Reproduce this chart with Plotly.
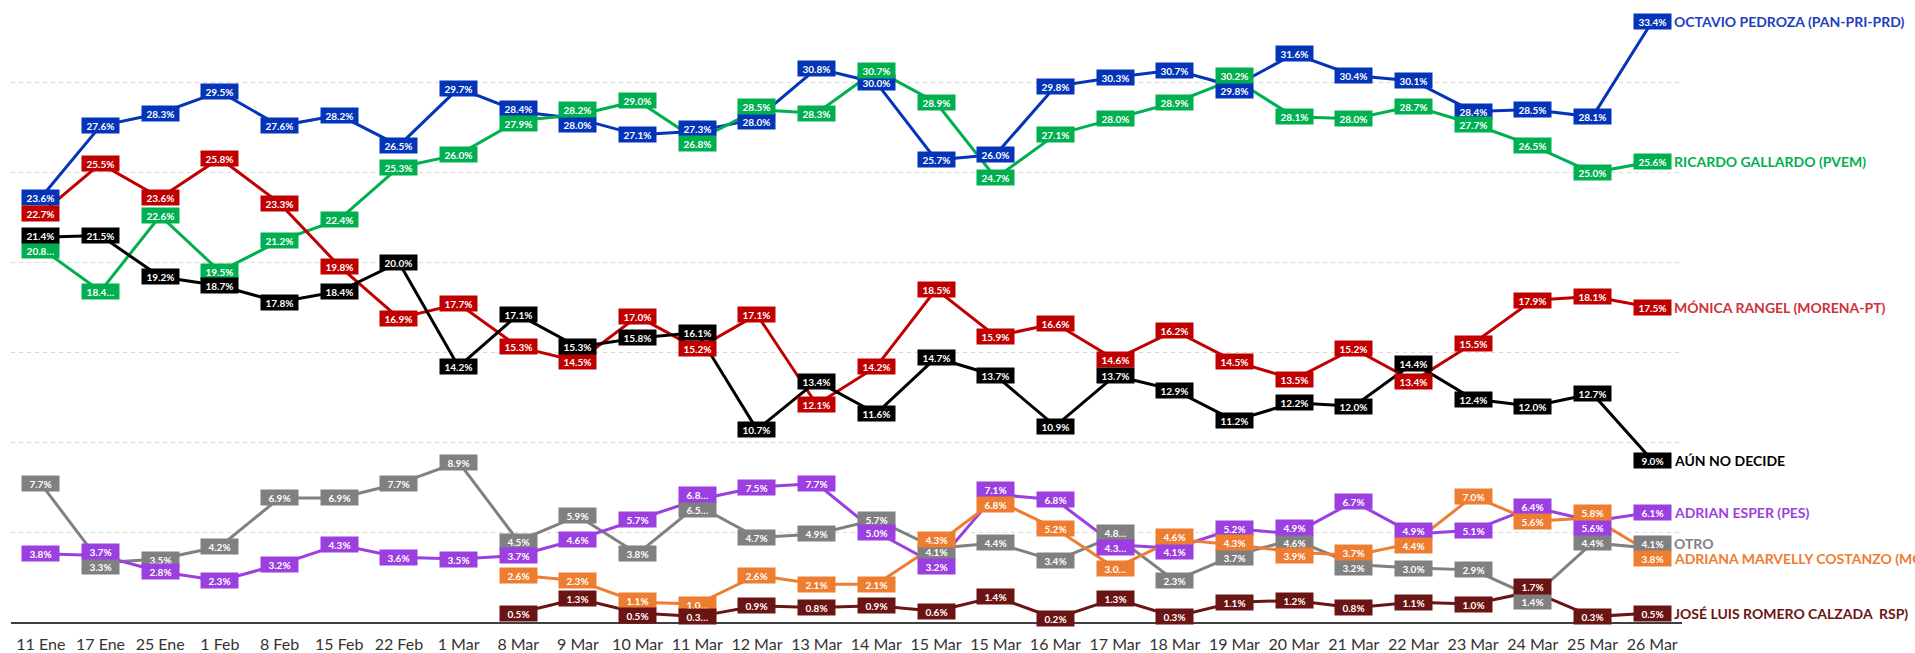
import plotly.graph_objects as go

categories = ["11 Ene", "17 Ene", "25 Ene", "1 Feb", "8 Feb", "15 Feb", "22 Feb", "1 Mar",
              "8 Mar", "9 Mar", "10 Mar", "11 Mar", "12 Mar", "13 Mar", "14 Mar", "15 Mar",
              "15 Mar", "16 Mar", "17 Mar", "18 Mar", "19 Mar", "20 Mar", "21 Mar", "22 Mar",
              "23 Mar", "24 Mar", "25 Mar", "26 Mar"]

octavio = [23.6, 27.6, 28.3, 29.5, 27.6, 28.2, 26.5, 29.7, 28.4, 28.0, 27.1, 27.3, 28.0, 30.8,
           30.0, 25.7, 26.0, 29.8, 30.3, 30.7, 29.8, 31.6, 30.4, 30.1, 28.4, 28.5, 28.1, 33.4]
ricardo = [20.8, 18.4, 22.6, 19.5, 21.2, 22.4, 25.3, 26.0, 27.9, 28.2, 29.0, 26.8, 28.5, 28.3,
           30.7, 28.9, 24.7, 27.1, 28.0, 28.9, 30.2, 28.1, 28.0, 28.7, 27.7, 26.5, 25.0, 25.6]
monica = [22.7, 25.5, 23.6, 25.8, 23.3, 19.8, 16.9, 17.7, 15.3, 14.5, 17.0, 15.2, 17.1, 12.1,
          14.2, 18.5, 15.9, 16.6, 14.6, 16.2, 14.5, 13.5, 15.2, 13.4, 15.5, 17.9, 18.1, 17.5]
no_decide = [21.4, 21.5, 19.2, 18.7, 17.8, 18.4, 20.0, 14.2, 17.1, 15.3, 15.8, 16.1, 10.7, 13.4,
             11.6, 14.7, 13.7, 10.9, 13.7, 12.9, 11.2, 12.2, 12.0, 14.4, 12.4, 12.0, 12.7, 9.0]
adrian = [3.8, 3.7, 2.8, 2.3, 3.2, 4.3, 3.6, 3.5, 3.7, 4.6, 5.7, 6.8, 7.5, 7.7,
          5.0, 3.2, 7.1, 6.8, 4.3, 4.1, 5.2, 4.9, 6.7, 4.9, 5.1, 6.4, 5.6, 6.1]
otro = [7.7, 3.3, 3.5, 4.2, 6.9, 6.9, 7.7, 8.9, 4.5, 5.9, 3.8, 6.5, 4.7, 4.9,
        5.7, 4.1, 4.4, 3.4, 4.8, 2.3, 3.7, 4.6, 3.2, 3.0, 2.9, 1.4, 4.4, 4.1]
adriana = [None, None, None, None, None, None, None, None, 2.6, 2.3, 1.1, 1.0, 2.6, 2.1,
           2.1, 4.3, 6.8, 5.2, 3.0, 4.6, 4.3, 3.9, 3.7, 4.4, 7.0, 5.6, 5.8, 3.8]
jose = [None, None, None, None, None, None, None, None, 0.5, 1.3, 0.5, 0.3, 0.9, 0.8,
        0.9, 0.6, 1.4, 0.2, 1.3, 0.3, 1.1, 1.2, 0.8, 1.1, 1.0, 1.7, 0.3, 0.5]

names = ["OCTAVIO PEDROZA (PAN-PRI-PRD)", "RICARDO GALLARDO (PVEM)", "MÓNICA RANGEL (MORENA-PT)",
         "AÚN NO DECIDE", "ADRIAN ESPER (PES)", "OTRO", "ADRIANA MARVELLY COSTANZO (MC)",
         "JOSÉ LUIS ROMERO CALZADA  RSP)"]

# label indices that Excel truncated with an ellipsis
truncated = {1: [0, 1], 4: [11, 18], 5: [11, 18], 6: [11, 18], 7: [11]}

series = [octavio, ricardo, monica, no_decide, adrian, otro, adriana, jose]
line_colors = ["#0434B8", "#00B050", "#C00000", "#000000", "#9B3FE0", "#808080", "#ED7D31", "#6B1414"]
name_colors = ["#1E40C0", "#00B050", "#CC3338", "#000000", "#9B3FE0", "#808080", "#ED7D31", "#6B1414"]
draw_order = [5, 0, 1, 2, 3, 4, 6, 7]

YMAX = 34.6
PLOT_H = 624
PX = PLOT_H / YMAX
FONT = "Lato, 'Open Sans', Arial, sans-serif"

x_idx = list(range(len(categories)))

fig = go.Figure()
for s in draw_order:
    fig.add_trace(go.Scatter(x=x_idx, y=series[s], mode="lines", name=names[s],
                             line=dict(color=line_colors[s], width=3),
                             connectgaps=False, hoverinfo="skip", showlegend=False))

# simple label de-overlap per category, like Excel does
shifts = {}
for i in x_idx:
    items = [[series[s][i] * PX, s, 0.0] for s in range(len(series)) if series[s][i] is not None]
    for _ in range(4):
        items.sort(key=lambda t: t[0] + t[2], reverse=True)
        for a, b in zip(items, items[1:]):
            gap = (a[0] + a[2]) - (b[0] + b[2])
            if gap < 12:
                d = (15 - gap) / 2
                a[2] += d
                b[2] -= d
    for y, s, sh in items:
        shifts[(s, i)] = sh

annotations = []
for s in draw_order:
    for i in x_idx:
        v = series[s][i]
        if v is None:
            continue
        txt = f"{v:.1f}…" if i in truncated.get(s, []) else f"{v:.1f}%"
        annotations.append(dict(x=i, y=v, xref="x", yref="y", text=f"<b>{txt}</b>",
                                showarrow=False, bgcolor=line_colors[s], width=35, height=13,
                                borderpad=1, yshift=shifts[(s, i)],
                                font=dict(family=FONT, size=10, color="white")))
    last = len(categories) - 1
    annotations.append(dict(x=last, y=series[s][last], xref="x", yref="y",
                            text=f"<b>{names[s]}</b>", showarrow=False, xanchor="left",
                            xshift=20, yshift=shifts[(s, last)],
                            font=dict(family=FONT, size=14, color=name_colors[s])))

fig.update_layout(
    width=1915, height=653,
    margin=dict(l=11, r=233, t=0, b=29),
    plot_bgcolor="white", paper_bgcolor="white",
    annotations=annotations,
    xaxis=dict(range=[-0.5, len(categories) - 0.5], tickvals=x_idx, ticktext=categories,
               showgrid=False, zeroline=False, showline=True, linecolor="#404040", linewidth=1.5,
               ticks="", ticklabelstandoff=7, tickfont=dict(family=FONT, size=16, color="#333333"),
               fixedrange=True),
    yaxis=dict(range=[0, YMAX], tickvals=[5, 10, 15, 20, 25, 30], showticklabels=False,
               showgrid=True, gridcolor="#D9D9D9", gridwidth=1, griddash="4px,4px",
               zeroline=False, showline=False, ticks="", fixedrange=True),
)

fig.write_html("out.html", config={"displayModeBar": False},
               post_script="document.body.style.margin='0';document.body.style.overflow='hidden';")
